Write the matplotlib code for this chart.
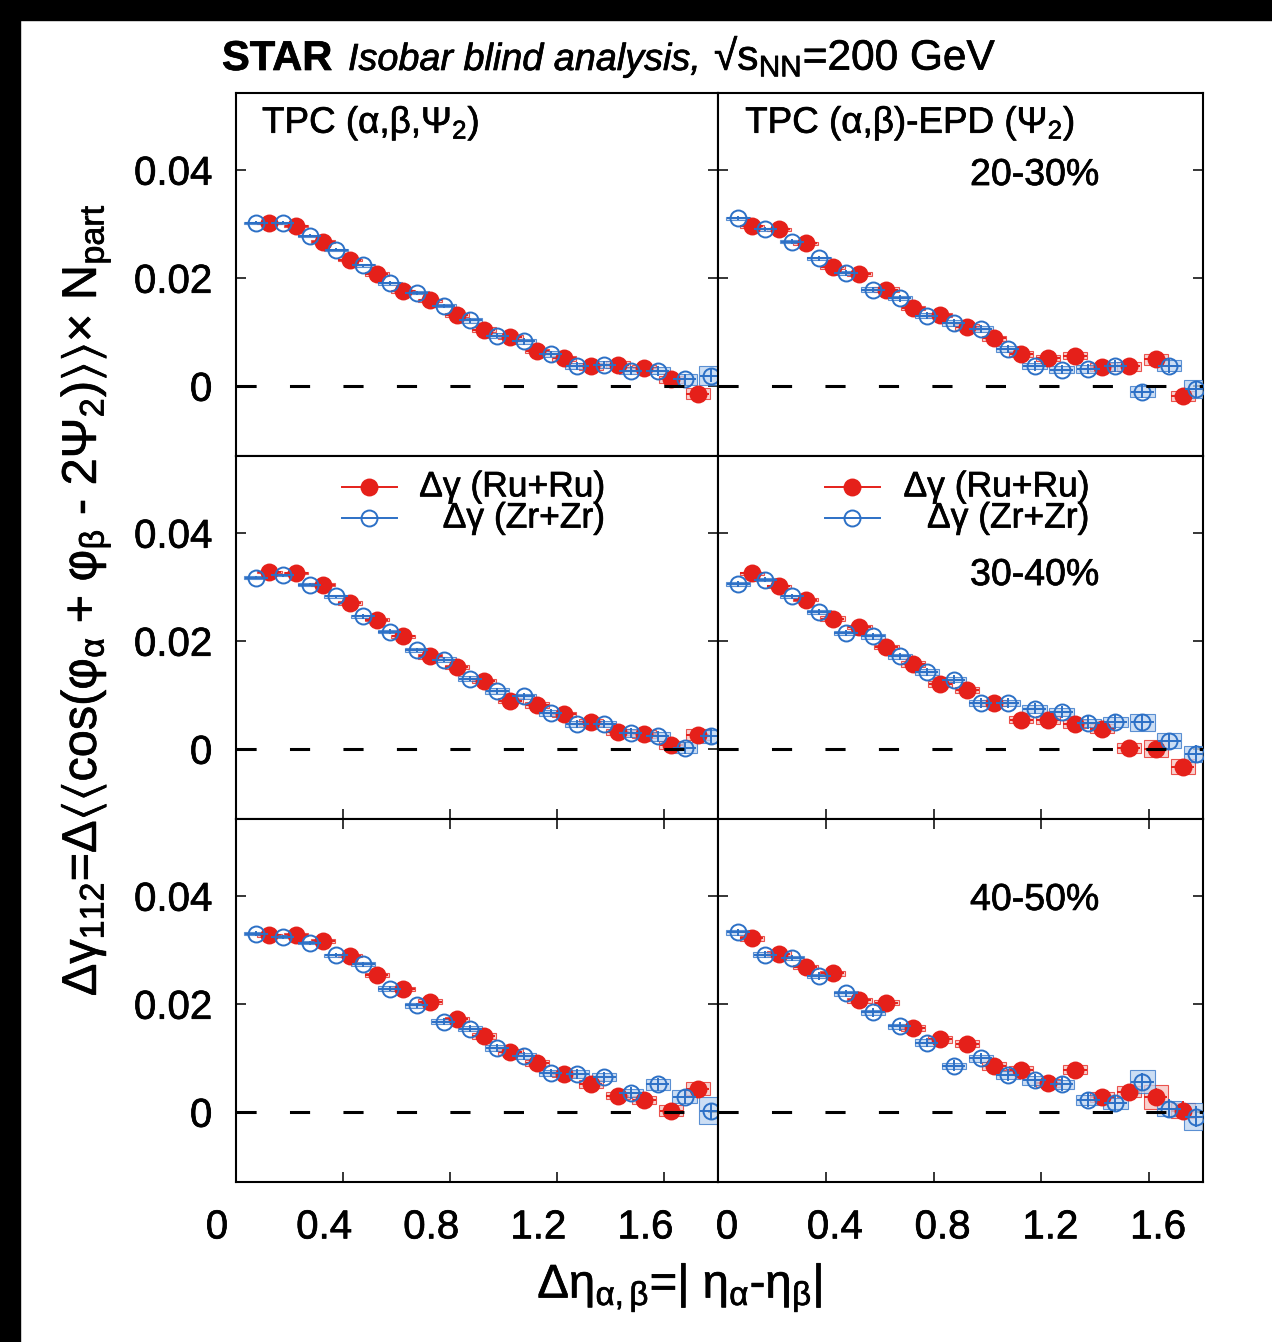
import matplotlib
matplotlib.use("Agg")
import matplotlib.pyplot as plt
import matplotlib.transforms as mtransforms
import matplotlib.patheffects as pe
from matplotlib.patches import Rectangle

plt.rcParams["font.family"] = ["Liberation Sans", "DejaVu Sans"]
plt.rcParams["mathtext.fontset"] = "custom"
plt.rcParams["mathtext.rm"] = "Liberation Sans"
plt.rcParams["mathtext.it"] = "Liberation Sans"
plt.rcParams["mathtext.bf"] = "Liberation Sans:bold"
plt.rcParams["mathtext.sf"] = "Liberation Sans"
plt.rcParams["mathtext.fallback"] = "stix"
plt.rcParams["lines.scale_dashes"] = False

# ---------------------------------------------------------------- data
# Delta-eta bin centres
eta_bins = [0.1, 0.2, 0.3, 0.4, 0.5, 0.6, 0.7, 0.8, 0.9,
            1.0, 1.1, 1.2, 1.3, 1.4, 1.5, 1.6, 1.7, 1.8]

centralities = ["20-30%", "30-40%", "40-50%"]

# TPC (alpha, beta, Psi2)
zr_tpc_2030 = [0.0302, 0.0302, 0.0278, 0.0252, 0.0223, 0.0190, 0.0172, 0.0148, 0.0121,
               0.0093, 0.0082, 0.0059, 0.0037, 0.0039, 0.0028, 0.0028, 0.0012, 0.0019]
ru_tpc_2030 = [0.0301, 0.0296, 0.0267, 0.0233, 0.0207, 0.0175, 0.0158, 0.0131, 0.0104,
               0.0090, 0.0064, 0.0051, 0.0036, 0.0039, 0.0033, 0.0012, -0.0015]
zr_tpc_3040 = [0.0317, 0.0321, 0.0304, 0.0282, 0.0245, 0.0217, 0.0183, 0.0165, 0.0130,
               0.0107, 0.0097, 0.0066, 0.0046, 0.0046, 0.0029, 0.0023, 0.0002, 0.0023]
ru_tpc_3040 = [0.0328, 0.0325, 0.0304, 0.0270, 0.0239, 0.0208, 0.0171, 0.0152, 0.0125,
               0.0089, 0.0081, 0.0064, 0.0049, 0.0031, 0.0027, 0.0007, 0.0026]
zr_tpc_4050 = [0.0330, 0.0324, 0.0313, 0.0290, 0.0273, 0.0228, 0.0197, 0.0167, 0.0154,
               0.0118, 0.0103, 0.0072, 0.0070, 0.0064, 0.0035, 0.0051, 0.0028, 0.0002]
ru_tpc_4050 = [0.0327, 0.0328, 0.0316, 0.0289, 0.0253, 0.0227, 0.0204, 0.0171, 0.0140,
               0.0111, 0.0090, 0.0070, 0.0051, 0.0030, 0.0022, 0.0002, 0.0043]

# TPC (alpha, beta) - EPD (Psi2)
zr_epd_2030 = [0.0310, 0.0290, 0.0267, 0.0236, 0.0209, 0.0178, 0.0162, 0.0130, 0.0116,
               0.0105, 0.0068, 0.0037, 0.0030, 0.0031, 0.0036, -0.0011, 0.0037, -0.0006]
ru_epd_2030 = [0.0295, 0.0290, 0.0264, 0.0219, 0.0207, 0.0178, 0.0144, 0.0131, 0.0109,
               0.0088, 0.0059, 0.0051, 0.0056, 0.0035, 0.0036, 0.0049, -0.0019]
zr_epd_3040 = [0.0305, 0.0313, 0.0282, 0.0253, 0.0214, 0.0208, 0.0171, 0.0142, 0.0128,
               0.0085, 0.0085, 0.0074, 0.0068, 0.0048, 0.0049, 0.0049, 0.0015, -0.0010]
ru_epd_3040 = [0.0325, 0.0301, 0.0276, 0.0241, 0.0225, 0.0189, 0.0157, 0.0120, 0.0109,
               0.0085, 0.0054, 0.0053, 0.0046, 0.0037, 0.0001, 0.0000, -0.0033]
zr_epd_4050 = [0.0332, 0.0291, 0.0285, 0.0251, 0.0219, 0.0184, 0.0158, 0.0128, 0.0085,
               0.0099, 0.0068, 0.0058, 0.0051, 0.0022, 0.0016, 0.0056, 0.0006, -0.0009]
ru_epd_4050 = [0.0321, 0.0293, 0.0268, 0.0256, 0.0206, 0.0202, 0.0155, 0.0134, 0.0126,
               0.0085, 0.0078, 0.0053, 0.0078, 0.0028, 0.0037, 0.0028, 0.0002]

# statistical uncertainties per bin
stat_tpc_2030 = [0.0003, 0.0003, 0.0003, 0.0003, 0.0003, 0.0004, 0.0004, 0.0004, 0.0005,
                 0.0005, 0.0006, 0.0006, 0.0007, 0.0007, 0.0008, 0.0009, 0.0010, 0.0012]
stat_tpc_3040 = [0.0003, 0.0003, 0.0003, 0.0003, 0.0004, 0.0004, 0.0004, 0.0005, 0.0005,
                 0.0006, 0.0006, 0.0007, 0.0008, 0.0008, 0.0009, 0.0010, 0.0011, 0.0013]
stat_tpc_4050 = [0.0004, 0.0004, 0.0004, 0.0004, 0.0005, 0.0005, 0.0005, 0.0006, 0.0006,
                 0.0007, 0.0008, 0.0008, 0.0009, 0.0010, 0.0011, 0.0012, 0.0013, 0.0015]
stat_epd_2030 = [0.0004, 0.0004, 0.0004, 0.0005, 0.0005, 0.0005, 0.0006, 0.0006, 0.0007,
                 0.0007, 0.0008, 0.0009, 0.0009, 0.0010, 0.0011, 0.0012, 0.0013, 0.0015]
stat_epd_3040 = [0.0005, 0.0005, 0.0005, 0.0006, 0.0006, 0.0006, 0.0007, 0.0007, 0.0008,
                 0.0009, 0.0009, 0.0010, 0.0011, 0.0012, 0.0013, 0.0014, 0.0015, 0.0017]
stat_epd_4050 = [0.0006, 0.0006, 0.0006, 0.0007, 0.0007, 0.0008, 0.0008, 0.0009, 0.0010,
                 0.0010, 0.0011, 0.0012, 0.0013, 0.0014, 0.0015, 0.0016, 0.0018, 0.0020]

# systematic uncertainties per bin (boxes)
sys_tpc_2030 = [0.0002, 0.0002, 0.0002, 0.0002, 0.0003, 0.0003, 0.0003, 0.0003, 0.0004,
                0.0004, 0.0004, 0.0005, 0.0006, 0.0006, 0.0006, 0.0007, 0.0010, 0.0017]
sys_tpc_3040 = [0.0002, 0.0002, 0.0003, 0.0003, 0.0003, 0.0003, 0.0004, 0.0004, 0.0004,
                0.0005, 0.0005, 0.0005, 0.0006, 0.0006, 0.0007, 0.0008, 0.0010, 0.0012]
sys_tpc_4050 = [0.0003, 0.0003, 0.0003, 0.0003, 0.0004, 0.0004, 0.0004, 0.0005, 0.0005,
                0.0005, 0.0006, 0.0006, 0.0007, 0.0007, 0.0008, 0.0010, 0.0012, 0.0025]
sys_epd_2030 = [0.0003, 0.0003, 0.0003, 0.0003, 0.0004, 0.0004, 0.0004, 0.0004, 0.0005,
                0.0005, 0.0005, 0.0006, 0.0007, 0.0007, 0.0008, 0.0010, 0.0010, 0.0016]
sys_epd_3040 = [0.0003, 0.0003, 0.0003, 0.0004, 0.0004, 0.0004, 0.0005, 0.0005, 0.0005,
                0.0006, 0.0006, 0.0007, 0.0007, 0.0008, 0.0009, 0.0016, 0.0014, 0.0015]
sys_epd_4050 = [0.0004, 0.0004, 0.0004, 0.0004, 0.0005, 0.0005, 0.0005, 0.0006, 0.0006,
                0.0007, 0.0007, 0.0008, 0.0008, 0.0009, 0.0010, 0.0022, 0.0014, 0.0025]

x_ticks = [0, 0.4, 0.8, 1.2, 1.6]
x_tick_labels = ["0", "0.4", "0.8", "1.2", "1.6"]
y_ticks = [0, 0.02, 0.04]
y_tick_labels = ["0", "0.02", "0.04"]

# ---------------------------------------------------------------- style
RED = "#e5201a"
BLUE = "#2c70c6"
RED_BOX = "#f6c2bf"
BLUE_BOX = "#bcd4f1"
SHIFT = 0.025      # Ru / Zr points are drawn side by side within a bin
XBAR = 0.043       # half-width of the horizontal bars
BOXW = 0.045       # half-width of the systematic boxes
MS = 11.5
HEAVY = [pe.withStroke(linewidth=0.5, foreground="black")]

W, H = 1272, 1342
fig = plt.figure(figsize=(W / 100, H / 100), dpi=100)

# black strips along the top and left edge of the canvas
fig.add_artist(Rectangle((0, 1 - 20 / H), 1, 20 / H, transform=fig.transFigure,
                         color="black", zorder=-10))
fig.add_artist(Rectangle((0, 0), 20 / W, 1, transform=fig.transFigure,
                         color="black", zorder=-10))

col_x = [236, 718]
col_w = [482, 485]
row_y = [93, 456, 819]
row_h = 363


def make_axes(r, c):
    x0, w = col_x[c], col_w[c]
    y0 = row_y[r]
    return fig.add_axes([x0 / W, 1 - (y0 + row_h) / H, w / W, row_h / H])


def draw_series(ax, values, stat, sys, shift, color, face, box_face, z):
    xs = [b + shift for b in eta_bins[:len(values)]]
    st = stat[:len(values)]
    sy = sys[:len(values)]
    for xv, yv, s in zip(xs, values, sy):
        ax.add_patch(Rectangle((xv - BOXW, yv - s), 2 * BOXW, 2 * s,
                               facecolor=box_face, edgecolor=color, lw=0.8,
                               alpha=0.75, zorder=z - 1, clip_on=True))
    ax.errorbar(xs, values, xerr=XBAR, yerr=st, fmt="o", ms=MS,
                mfc=face, mec=color, mew=1.4, ecolor=color, elinewidth=1.4,
                capsize=0, zorder=z)


panels = [
    (ru_tpc_2030, zr_tpc_2030, stat_tpc_2030, sys_tpc_2030,
     ru_epd_2030, zr_epd_2030, stat_epd_2030, sys_epd_2030),
    (ru_tpc_3040, zr_tpc_3040, stat_tpc_3040, sys_tpc_3040,
     ru_epd_3040, zr_epd_3040, stat_epd_3040, sys_epd_3040),
    (ru_tpc_4050, zr_tpc_4050, stat_tpc_4050, sys_tpc_4050,
     ru_epd_4050, zr_epd_4050, stat_epd_4050, sys_epd_4050),
]

texts = []
axes = [[None, None] for _ in range(3)]
for r in range(3):
    row = panels[r]
    for c in range(2):
        ax = make_axes(r, c)
        axes[r][c] = ax
        ru, zr, st, sy = row[4 * c:4 * c + 4]
        draw_series(ax, ru, st, sy, +SHIFT, RED, RED, RED_BOX, 3)
        draw_series(ax, zr, st, sy, -SHIFT, BLUE, "none", BLUE_BOX, 4)
        ax.axhline(0, color="black", lw=2.2, dashes=(14.5, 24), zorder=6)

        ax.set_xlim(0, 1.8)
        ax.set_ylim(-0.0130, 0.0542)
        for sp in ax.spines.values():
            sp.set_linewidth(1.5)

        ax.set_yticks(y_ticks)
        ax.set_xticks(x_ticks)
        ax.tick_params(axis="both", direction="in", length=7, width=1.1,
                       labelsize=29)
        ax.tick_params(axis="y", left=True, right=True, pad=17,
                       labelleft=(c == 0))
        if c == 0:
            ax.set_yticklabels(y_tick_labels)
            texts.extend(ax.get_yticklabels())
        show_bottom = r >= 1
        show_top = r == 2
        ax.tick_params(axis="x", bottom=show_bottom, top=show_top,
                       labelbottom=(r == 2), pad=19)
        if r == 2:
            ax.set_xticklabels(x_tick_labels)
            dx = -19 if c == 0 else 9
            off = mtransforms.ScaledTranslation(dx / 100, 0, fig.dpi_scale_trans)
            for lab in ax.get_xticklabels():
                lab.set_transform(lab.get_transform() + off)
            texts.extend(ax.get_xticklabels())

        # centrality label
        cy = [0.774, 0.672, 0.777][r]
        if c == 1:
            texts.append(ax.text(0.653, cy, centralities[r], transform=ax.transAxes,
                                 ha="center", va="center", fontsize=27))

# method labels
texts.append(axes[0][0].text(0.054, 0.89, r"TPC (α,β,Ψ$_2$)",
                             transform=axes[0][0].transAxes,
                             ha="left", va="baseline", fontsize=26.5))
texts.append(axes[0][1].text(0.056, 0.89, r"TPC (α,β)-EPD (Ψ$_2$)",
                             transform=axes[0][1].transAxes,
                             ha="left", va="baseline", fontsize=26.5))

# legends
for ax in axes[1]:
    for yy, col, face, lab in [(0.915, RED, RED, "Δγ (Ru+Ru)"),
                               (0.829, BLUE, "none", "Δγ (Zr+Zr)")]:
        ax.plot([0.22, 0.276, 0.334], [yy] * 3, transform=ax.transAxes,
                color=col, lw=1.4, marker="o", markevery=[1], ms=MS,
                mfc=face, mec=col, mew=1.4, clip_on=False, zorder=7)
        texts.append(ax.text(0.766, yy, lab, transform=ax.transAxes, ha="right",
                             va="center", fontsize=25.5))

# title
texts.append(fig.text(222 / W, 1 - 70 / H, "STAR", fontsize=30, fontweight="bold",
                      va="baseline"))
texts.append(fig.text(348 / W, 1 - 70 / H, "Isobar blind analysis,", fontsize=27.2,
                      fontstyle="italic", va="baseline"))
texts.append(fig.text(714 / W, 1 - 70 / H, r"√s$_{\mathrm{NN}}$=200 GeV", fontsize=30.5,
                      va="baseline"))

# axis titles
texts.append(fig.text(86 / W, 1 - 600 / H,
                      r"$\Delta\gamma_{112}$=Δ$\langle\langle$cos(φ$_{\alpha}$ + φ$_{\beta}$"
                      r" - 2Ψ$_{2}$)$\rangle\rangle$× N$_{\mathrm{part}}$",
                      rotation=90, ha="center", va="center", fontsize=35))
texts.append(fig.text(680 / W, 1 - 1288 / H,
                      r"Δη$_{\alpha,\beta}$=| η$_{\alpha}$-η$_{\beta}$|",
                      ha="center", va="center", fontsize=34))

for t in texts:
    t.set_path_effects(HEAVY)

fig.savefig("out.png", dpi=100, facecolor="white")
